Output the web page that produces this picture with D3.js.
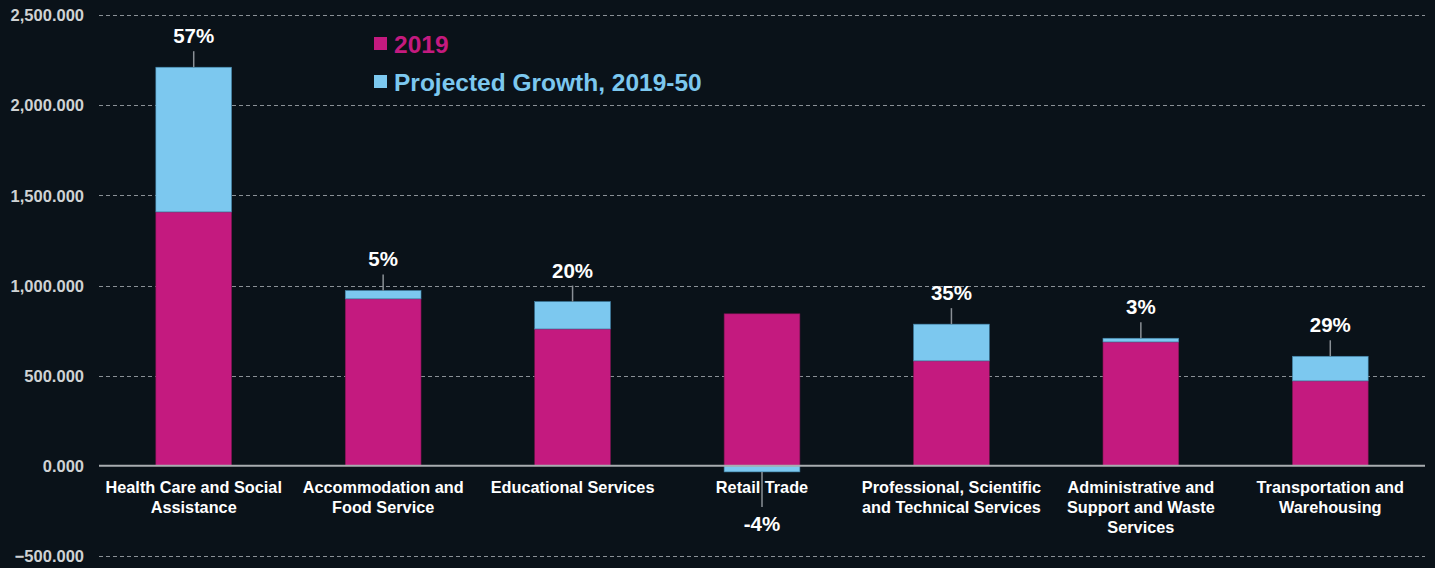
<!DOCTYPE html>
<html>
<head>
<meta charset="utf-8">
<script src="https://cdn.jsdelivr.net/npm/d3@7"></script>
<style>
  html, body { margin: 0; padding: 0; background: #0a1219; }
  svg { display: block; }
  text { font-family: "Liberation Sans", Arial, sans-serif; font-weight: bold; }
</style>
</head>
<body>
<svg id="chart" width="1435" height="568"></svg>
<script>
// Employment by industry (thousands): 2019 level and projected % growth to 2050
const categories = [
  ["Health Care and Social", "Assistance"],
  ["Accommodation and", "Food Service"],
  ["Educational Services"],
  ["Retail Trade"],
  ["Professional, Scientific", "and Technical Services"],
  ["Administrative and", "Support and Waste", "Services"],
  ["Transportation and", "Warehousing"]
];
const values2019 = [1408, 926, 759, 843, 582, 687, 471];
const growthPct = [57, 5, 20, -4, 35, 3, 29];
const yTicks = [-500, 0, 500, 1000, 1500, 2000, 2500];
const legendLabels = ["2019", "Projected Growth, 2019-50"];

const colors = { base: "#c41a7f", growth: "#7cc8ef" };
const W = 1435, H = 568;
const margin = { left: 99, right: 10, top: 15, bottom: 12 };

const svg = d3.select("#chart");
svg.append("rect").attr("width", W).attr("height", H).attr("fill", "#0a1219");

const idx = d3.range(categories.length);
const x = d3.scaleBand().domain(idx).range([margin.left, W - margin.right]).paddingInner(0.6).paddingOuter(0.3);
const y = d3.scaleLinear().domain([-500, 2500]).range([H - margin.bottom, margin.top]);

// Grid lines and y labels
const yAxis = d3.axisLeft(y).tickValues(yTicks).tickSize(0).tickPadding(0)
  .tickFormat(d => d3.format(",.3f")(d));
const gy = svg.append("g").attr("transform", `translate(84,0)`).call(yAxis);
gy.select(".domain").remove();
gy.selectAll("text").attr("fill", "#cfd2d4").attr("font-size", 16.5).attr("font-weight", "bold")
  .attr("font-family", "'Liberation Sans', Arial, sans-serif").attr("dy", "0.35em");

svg.append("g").selectAll("line").data(yTicks.filter(d => d !== 0)).join("line")
  .attr("x1", margin.left).attr("x2", W - margin.right)
  .attr("y1", d => Math.round(y(d)) + 0.5).attr("y2", d => Math.round(y(d)) + 0.5)
  .attr("stroke", "#8a9096").attr("stroke-width", 1).attr("stroke-dasharray", "4,3");

// Stacked bars
const data = idx.map(i => {
  const base = values2019[i];
  const growth = base * growthPct[i] / 100;
  return { i, base, growth, pct: growthPct[i] };
});

const bars = svg.append("g");
bars.selectAll("rect.base").data(data).join("rect").attr("class", "base")
  .attr("x", d => x(d.i)).attr("width", x.bandwidth())
  .attr("y", d => y(d.base)).attr("height", d => y(0) - y(d.base))
  .attr("fill", colors.base).attr("stroke", "#7a1550").attr("stroke-width", 0.6);

bars.selectAll("rect.growth").data(data).join("rect").attr("class", "growth")
  .attr("x", d => x(d.i)).attr("width", x.bandwidth())
  .attr("y", d => d.growth >= 0 ? y(d.base + d.growth) : y(0))
  .attr("height", d => Math.abs(y(0) - y(Math.abs(d.growth))) )
  .attr("fill", colors.growth).attr("stroke", "#3f7fa3").attr("stroke-width", 0.6);

// Zero line
svg.append("line").attr("x1", margin.left).attr("x2", W - margin.right)
  .attr("y1", y(0)).attr("y2", y(0)).attr("stroke", "#a9adb0").attr("stroke-width", 2);

// Leader lines and % labels
const lab = svg.append("g");
data.forEach(d => {
  const cx = x(d.i) + x.bandwidth() / 2;
  if (d.growth >= 0) {
    const top = y(d.base + d.growth);
    lab.append("line").attr("x1", cx).attr("x2", cx).attr("y1", top).attr("y2", top - 16)
      .attr("stroke", "#8a9096").attr("stroke-width", 1.5);
    lab.append("text").attr("x", cx).attr("y", top - 24).attr("text-anchor", "middle")
      .attr("fill", "#ffffff").attr("font-size", 20.5).text(d.pct + "%");
  } else {
    const bot = y(d.growth);
    lab.append("line").attr("x1", cx).attr("x2", cx).attr("y1", bot).attr("y2", bot + 35)
      .attr("stroke", "#8a9096").attr("stroke-width", 1.5);
    lab.append("text").attr("x", cx).attr("y", bot + 59).attr("text-anchor", "middle")
      .attr("fill", "#ffffff").attr("font-size", 20.5).text(d.pct + "%");
  }
});

// Category labels
const cat = svg.append("g");
categories.forEach((lines, i) => {
  const cx = x(i) + x.bandwidth() / 2;
  const t = cat.append("text").attr("x", cx).attr("y", y(0) + 27).attr("text-anchor", "middle")
    .attr("fill", "#ffffff").attr("font-size", 16.3);
  lines.forEach((ln, k) => {
    t.append("tspan").attr("x", cx).attr("dy", k === 0 ? 0 : 20).text(ln);
  });
});

// Legend
const legend = svg.append("g").attr("transform", "translate(374,37)");
[colors.base, colors.growth].forEach((c, k) => {
  const g = legend.append("g").attr("transform", `translate(0,${k * 38})`);
  g.append("rect").attr("width", 13).attr("height", 13).attr("fill", c);
  g.append("text").attr("x", 20).attr("y", 16).attr("fill", c).attr("font-size", 24.5)
    .text(legendLabels[k]);
});
</script>
</body>
</html>
